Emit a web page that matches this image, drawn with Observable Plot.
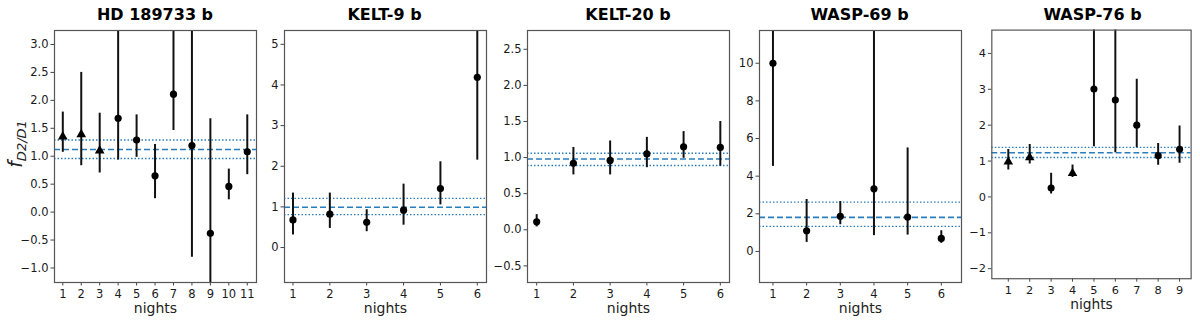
<!DOCTYPE html>
<html><head><meta charset="utf-8">
<script src="https://cdn.jsdelivr.net/npm/d3@7"></script>
<script src="https://cdn.jsdelivr.net/npm/@observablehq/plot@0.6"></script>
<style>
body{margin:0;background:#fff;font-family:"DejaVu Sans",sans-serif;}
#wrap{position:relative;width:1200px;height:320px;overflow:hidden;background:#fff;}
.panel{position:absolute;top:0;}
.title{position:absolute;top:5px;font-weight:bold;font-size:16px;text-align:center;color:#000;white-space:nowrap;}
.ylab{position:absolute;left:-17px;top:132px;width:64px;height:24px;line-height:24px;text-align:center;transform:rotate(-90deg);font-size:19px;color:#222;white-space:nowrap;}
.ylab i{font-style:italic;}
.ylab sub{font-size:13px;font-style:italic;vertical-align:-4px;}
</style></head><body><div id="wrap"></div>
<script>
// ---- data ----
const titles = ["HD 189733 b", "KELT-9 b", "KELT-20 b", "WASP-69 b", "WASP-76 b"];

const hdNights = [1, 2, 3, 4, 5, 6, 7, 8, 9, 10, 11];
const hdVal = [1.35, 1.39, 1.10, 1.68, 1.29, 0.65, 2.11, 1.19, -0.38, 0.46, 1.08];
const hdLo  = [1.07, 0.83, 0.70, 0.93, 0.98, 0.24, 1.46, -0.81, -1.60, 0.22, 0.67];
const hdHi  = [1.79, 2.50, 1.77, 3.40, 1.74, 1.21, 3.60, 3.90, 1.67, 0.77, 1.74];
const hdShape = ["triangle", "triangle", "triangle", "circle", "circle", "circle", "circle", "circle", "circle", "circle", "circle"];

const k9Nights = [1, 2, 3, 4, 5, 6];
const k9Val = [0.68, 0.82, 0.62, 0.92, 1.45, 4.19];
const k9Lo  = [0.31, 0.47, 0.39, 0.55, 1.05, 2.15];
const k9Hi  = [1.34, 1.34, 0.93, 1.56, 2.11, 6.20];
const k9Shape = ["circle", "circle", "circle", "circle", "circle", "circle"];

const k20Nights = [1, 2, 3, 4, 5, 6];
const k20Val = [0.11, 0.92, 0.96, 1.05, 1.15, 1.14];
const k20Lo  = [0.04, 0.76, 0.76, 0.86, 0.99, 0.88];
const k20Hi  = [0.21, 1.14, 1.23, 1.28, 1.36, 1.50];
const k20Shape = ["circle", "circle", "circle", "circle", "circle", "circle"];

const w69Nights = [1, 2, 3, 4, 5, 6];
const w69Val = [10.0, 1.10, 1.87, 3.33, 1.83, 0.69];
const w69Lo  = [4.52, 0.48, 1.42, 0.84, 0.87, 0.43];
const w69Hi  = [15.5, 2.76, 2.65, 13.0, 5.50, 1.10];
const w69Shape = ["circle", "circle", "circle", "circle", "circle", "circle"];

const w76Nights = [1, 2, 3, 4, 5, 6, 7, 8, 9];
const w76Val = [0.98, 1.10, 0.25, 0.66, 3.01, 2.70, 2.00, 1.15, 1.33];
const w76Lo  = [0.75, 0.92, 0.08, 0.54, 1.40, 1.23, 1.37, 0.88, 0.94];
const w76Hi  = [1.32, 1.46, 0.66, 0.89, 5.60, 5.10, 3.28, 1.49, 1.98];
const w76Shape = ["triangle", "triangle", "circle", "triangle", "circle", "circle", "circle", "circle", "circle"];

const meanVal = [1.12, 0.99, 0.98, 1.81, 1.23];
const meanLo  = [0.96, 0.81, 0.89, 1.33, 1.10];
const meanHi  = [1.29, 1.21, 1.06, 2.62, 1.38];

const yDomains = [[-1.26, 3.25], [-0.86, 5.34], [-0.73, 2.76], [-1.65, 11.74], [-2.28, 4.65]];
const xDomains = [[0.55, 11.5], [0.77, 6.25], [0.75, 6.25], [0.6, 6.6], [0.23, 9.54]];
const yTicks = [
  [-1.0, -0.5, 0.0, 0.5, 1.0, 1.5, 2.0, 2.5, 3.0],
  [0, 1, 2, 3, 4, 5],
  [-0.5, 0.0, 0.5, 1.0, 1.5, 2.0, 2.5],
  [0, 2, 4, 6, 8, 10],
  [-2, -1, 0, 1, 2, 3, 4]
];
const yFormats = [".1f", "d", ".1f", "d", "d"];
const frameLefts = [54, 283.5, 527, 758.5, 991.5];
const xLabel = "nights";

// ---- build ----
const series = [
  [hdNights, hdVal, hdLo, hdHi, hdShape],
  [k9Nights, k9Val, k9Lo, k9Hi, k9Shape],
  [k20Nights, k20Val, k20Lo, k20Hi, k20Shape],
  [w69Nights, w69Val, w69Lo, w69Hi, w69Shape],
  [w76Nights, w76Val, w76Lo, w76Hi, w76Shape]
];
const blue = "#2a7dbd";
const ML = 50, MR = 10, FW = 202;
const wrap = document.getElementById("wrap");

series.forEach(([nights, val, lo, hi, shape], i) => {
  const rows = nights.map((n, j) => ({night: n, val: val[j], lo: lo[j], hi: hi[j], shape: shape[j]}));
  const fmt = d3.format(yFormats[i]);
  const plot = Plot.plot({
    width: ML + FW + MR,
    height: 320,
    marginLeft: ML, marginRight: MR, marginTop: 30, marginBottom: 38,
    style: {fontFamily: "DejaVu Sans, sans-serif", fontSize: "11.5px", color: "#1a1a1a", background: "transparent", overflow: "visible"},
    x: {domain: xDomains[i]},
    y: {domain: yDomains[i]},
    marks: [
      Plot.ruleY([meanVal[i]], {stroke: blue, strokeDasharray: "6,3", strokeWidth: 1.6}),
      Plot.ruleY([meanLo[i], meanHi[i]], {stroke: blue, strokeDasharray: "1.5,2", strokeWidth: 1.4}),
      Plot.ruleX(rows, {x: "night", y1: "lo", y2: "hi", stroke: "#111", strokeWidth: 2, clip: true}),
      Plot.dot(rows, {filter: d => d.shape === "circle", x: "night", y: "val", symbol: "circle", fill: "#000", r: 3.6, clip: true}),
      Plot.dot(rows, {filter: d => d.shape === "triangle", x: "night", y: "val", symbol: "triangle", fill: "#000", r: 3.6, clip: true}),
      Plot.axisY({ticks: yTicks[i], tickFormat: fmt, tickSize: 3.5, tickPadding: 2.5, label: null, stroke: "#444"}),
      Plot.axisX({ticks: nights, tickFormat: d => String(d), tickSize: 3.5, tickPadding: 4, label: null, stroke: "#444"}),
      Plot.text([xLabel], {frameAnchor: "bottom", lineAnchor: "middle", dy: 26, fontSize: 14, fill: "#222"}),
      Plot.frame({stroke: "#555", strokeWidth: 1.2})
    ]
  });
  const div = document.createElement("div");
  div.className = "panel";
  div.style.left = (frameLefts[i] - ML) + "px";
  div.appendChild(plot);
  wrap.appendChild(div);
  const t = document.createElement("div");
  t.className = "title";
  t.style.left = frameLefts[i] + "px";
  t.style.width = FW + "px";
  t.textContent = titles[i];
  wrap.appendChild(t);
});

const yl = document.createElement("div");
yl.className = "ylab";
yl.innerHTML = "<i>f</i><sub>D2/D1</sub>";
wrap.appendChild(yl);
</script>
</body></html>
